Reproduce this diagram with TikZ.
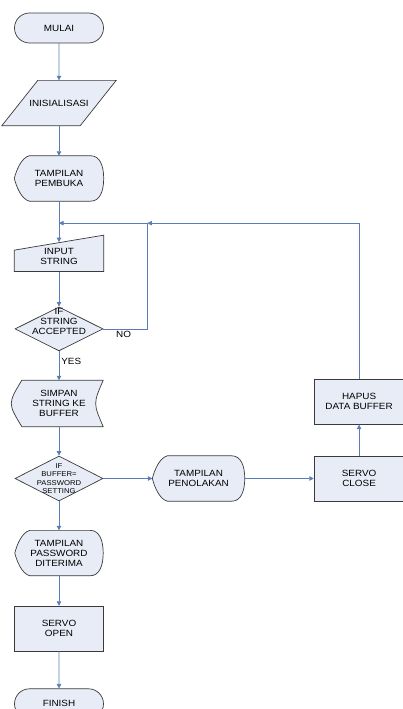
\documentclass[tikz,border=0pt]{standalone}
\usepackage{fontspec}
\setmainfont{Liberation Sans}[FakeStretch=1.1]
\usetikzlibrary{shapes.geometric, shapes.misc, arrows.meta, positioning, calc, backgrounds}
\definecolor{shapefill}{HTML}{E8ECF6}
\definecolor{shapeedge}{HTML}{3A3A3A}
\definecolor{linkblue}{HTML}{5A7DBA}

\begin{document}
\begin{tikzpicture}[
    x=1pt, y=-1pt,
    flow/.style={align=center, inner sep=0pt, font=\fontsize{9}{10}\selectfont},
    smallflow/.style={align=center, inner sep=0pt, font=\fontsize{7}{8.3}\selectfont},
    term/.style={flow, rounded rectangle, draw=shapeedge, fill=shapefill, line width=0.7pt,
                 minimum width=89pt, minimum height=30pt},
    process/.style={flow, rectangle, draw=shapeedge, fill=shapefill, line width=0.7pt,
                 minimum width=90pt, minimum height=45pt},
    decision/.style={diamond, draw=shapeedge, fill=shapefill, line width=0.7pt, inner sep=0pt,
                 minimum width=88pt, minimum height=44pt},
    shapebox/.style={flow, minimum width=89pt, minimum height=45pt},
    outline/.style={draw=shapeedge, fill=shapefill, line width=0.7pt},
    arrow/.style={-{Triangle[length=4.5pt, width=4.5pt]}, draw=linkblue, line width=0.7pt},
    lbl/.style={font=\fontsize{9}{10}\selectfont, inner sep=2pt}
]
\useasboundingbox (0,0) rectangle (403,709);

% main column
\node[term] (mulai) at (59,28) {MULAI};
\node[shapebox, minimum width=114pt, below=37pt of mulai] (init) {INISIALISASI};
\node[shapebox, below=30pt of init] (pembuka) {TAMPILAN\\PEMBUKA};
\node[shapebox, minimum height=29pt, below=41pt of pembuka] (input) {INPUT\\STRING};
\node[decision, below=35pt of input] (acc) {};
\node[flow] (acctext) at ([yshift=7pt]acc.center) {IF\\STRING\\ACCEPTED};
\node[shapebox, minimum width=88pt, minimum height=46pt, below=29pt of acc] (simpan) {SIMPAN\\STRING KE\\BUFFER};
\node[decision, minimum height=45pt, below=29pt of simpan] (pwcheck) {};
\node[smallflow] (pwtext) at (pwcheck) {IF\\BUFFER=\\PASSWORD\\SETTING};
\node[shapebox, minimum width=88pt, below=29pt of pwcheck] (diterima) {TAMPILAN\\PASSWORD\\DITERIMA};
\node[process, minimum width=89pt, below=30pt of diterima] (open) {SERVO\\OPEN};
\node[term, below=37pt of open] (finish) {FINISH};

% reject branch
\node[shapebox, minimum width=92pt, right=49pt of pwcheck] (tolak) {TAMPILAN\\PENOLAKAN};
\node[process, right=69pt of tolak] (close) {SERVO\\CLOSE};
\node[process, above=31pt of close] (hapus) {HAPUS\\DATA BUFFER};

% outlines of the special shapes
\begin{scope}[on background layer]
  \draw[outline] (init.south west) -- ([xshift=-36pt]init.south east) -- (init.north east)
    -- ([xshift=36pt]init.north west) -- cycle;
  \draw[outline] (input.south west) -- ([yshift=-8pt]input.north west)
    -- ([yshift=7pt]input.north east) -- (input.south east) -- cycle;
  \draw[outline] ([xshift=7pt]simpan.north west) -- (simpan.north east)
    .. controls ([xshift=-10pt]simpan.east) .. (simpan.south east)
    -- ([xshift=7pt]simpan.south west)
    .. controls ([xshift=-7pt]simpan.west) .. ([xshift=7pt]simpan.north west) -- cycle;
  \foreach \n in {pembuka, diterima, tolak}
    \draw[outline] ([xshift=15pt]\n.north west) -- ([xshift=-13pt]\n.north east)
      .. controls ([xshift=-4pt]\n.north east) and ([yshift=13pt]\n.east) .. (\n.east)
      .. controls ([yshift=-13pt]\n.east) and ([xshift=-4pt]\n.south east) .. ([xshift=-13pt]\n.south east)
      -- ([xshift=15pt]\n.south west)
      .. controls ([xshift=7pt,yshift=2pt]\n.south west) and ([xshift=2pt,yshift=-8pt]\n.west) .. (\n.west)
      .. controls ([xshift=2pt,yshift=8pt]\n.west) and ([xshift=7pt,yshift=-2pt]\n.north west) .. ([xshift=15pt]\n.north west)
      -- cycle;
\end{scope}

\coordinate (loopin) at ($(pembuka.south)+(0,22)$);
\path (acc.east) ++(44,0) coordinate (noright);
\coordinate (nocorner) at (noright |- loopin);

\draw[arrow] (mulai) -- (init);
\draw[arrow] (init) -- (pembuka);
\draw[arrow] (pembuka) -- (input);
\draw[arrow] (input) -- (acc);
\draw[arrow] (acc) -- node[lbl, right, pos=0.35]{YES} (simpan);
\draw[arrow] (acc.east) -| node[lbl, below, pos=0.23]{NO} (nocorner) -- (loopin);
\draw[arrow] (simpan) -- (pwcheck);
\draw[arrow] (pwcheck) -- (diterima);
\draw[arrow] (diterima) -- (open);
\draw[arrow] (open) -- (finish);
\draw[arrow] (pwcheck) -- (tolak);
\draw[arrow] (tolak) -- (close);
\draw[arrow] (close) -- (hapus);
\draw[arrow] (hapus.north) |- (nocorner);

\end{tikzpicture}
\end{document}
